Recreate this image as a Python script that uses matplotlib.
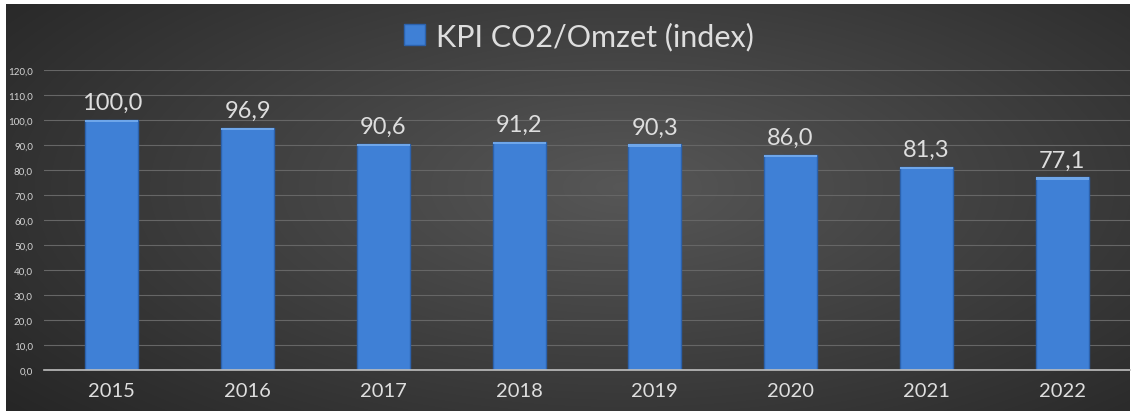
import matplotlib.pyplot as plt
import numpy as np
from matplotlib.patches import Rectangle

years = ["2015", "2016", "2017", "2018", "2019", "2020", "2021", "2022"]
values = [100.0, 96.9, 90.6, 91.2, 90.3, 86.0, 81.3, 77.1]
yticks = [0, 10, 20, 30, 40, 50, 60, 70, 80, 90, 100, 110, 120]
series_name = "KPI CO2/Omzet (index)"

plt.rcParams["font.family"] = ["Lato", "DejaVu Sans"]

W, H = 1133, 414
fig = plt.figure(figsize=(W / 100, H / 100), dpi=100)
fig.patch.set_facecolor("white")

# dark background panel with radial gradient
bg = fig.add_axes([6 / W, 2 / H, (W - 9) / W, (H - 7) / H])
bg.set_axis_off()
yy, xx = np.mgrid[0:1:300j, 0:1:800j]
r = np.sqrt(((xx - 0.55) / 0.75) ** 2 + ((yy - 0.45) / 0.9) ** 2)
shade = np.clip(0.34 - 0.2 * r, 0.13, 0.34)
bg.imshow(np.dstack([shade] * 3), aspect="auto", extent=[0, 1, 0, 1],
          interpolation="bilinear")
bg.set_xlim(0, 1)
bg.set_ylim(0, 1)

ax = fig.add_axes([44 / W, 1 - 371 / H, (1130 - 44) / W, 300 / H])
ax.patch.set_alpha(0)
x = np.arange(len(years))
bw = 0.39
bars = ax.bar(x, values, width=bw, color="#3f80d6", edgecolor="#2c62ad",
              linewidth=1.0, zorder=3)
for xi, v in zip(x, values):
    # lighter bevel on top of each bar
    ax.add_patch(Rectangle((xi - bw / 2, v - 0.9), bw, 0.9, color="#6ea6ea",
                           lw=0, zorder=4))
    ax.text(xi, v + 2.7, f"{v:.1f}".replace(".", ","), ha="center",
            va="bottom", fontsize=17, color="#dedede", zorder=5)

ax.set_xlim(-0.5, len(years) - 0.5)
ax.set_ylim(0, 120)
ax.set_yticks(yticks)
ax.set_yticklabels([f"{t:.1f}".replace(".", ",") for t in yticks],
                   fontsize=7, color="#d4d4d4")
ax.set_xticks(x)
ax.set_xticklabels(years, fontsize=14.5, color="#dedede")
ax.tick_params(axis="both", length=0)
ax.tick_params(axis="x", pad=9)
ax.tick_params(axis="y", pad=8)
ax.yaxis.grid(True, color="#666666", linewidth=0.8, zorder=0)
for s in ["top", "right", "left"]:
    ax.spines[s].set_visible(False)
ax.spines["bottom"].set_color("#bfbfbf")
ax.spines["bottom"].set_linewidth(1.2)
ax.spines["bottom"].set_zorder(6)

leg = fig.legend([bars], [series_name], loc="center",
                 bbox_to_anchor=(579 / W, 1 - 37 / H),
                 frameon=False, fontsize=22, labelcolor="#dedede",
                 handlelength=0.7, handleheight=0.7, handletextpad=0.35)

fig.savefig("out.png", dpi=100, facecolor=fig.get_facecolor())
